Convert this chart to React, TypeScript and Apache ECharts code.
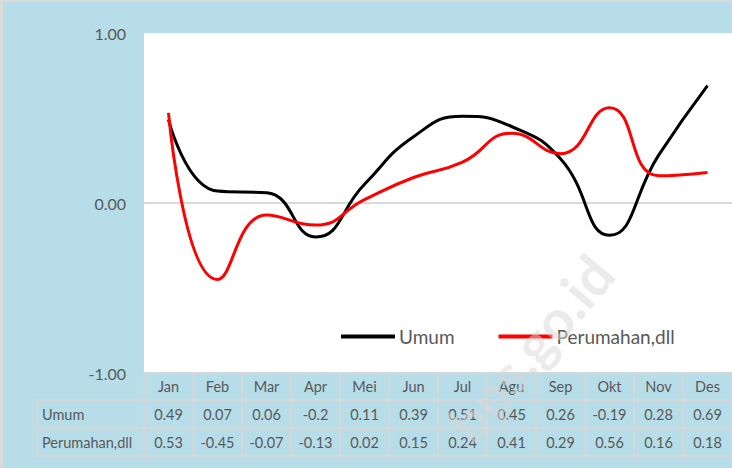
import React, { useEffect, useRef } from "react";
import * as echarts from "echarts";

const months = ["Jan", "Feb", "Mar", "Apr", "Mei", "Jun", "Jul", "Agu", "Sep", "Okt", "Nov", "Des"];
const umum = [0.49, 0.07, 0.06, -0.2, 0.11, 0.39, 0.51, 0.45, 0.26, -0.19, 0.28, 0.69];
const perumahan = [0.53, -0.45, -0.07, -0.13, 0.02, 0.15, 0.24, 0.41, 0.29, 0.56, 0.16, 0.18];
const seriesNames = ["Umum", "Perumahan,dll"];

const FONT = "Lato";
const TEXT = "#595959";
const LINE = "#d6d6d6";
const BG = "#b7dde8";

const GL = 144;
const GT = 33;
const GW = 592;
const GH = 340;
const ROW = [27, 28, 28];

export default function App() {
  const ref = useRef<HTMLDivElement>(null);
  useEffect(() => {
    if (!ref.current) return;
    const chart = echarts.init(ref.current, null, { renderer: "svg" });
    const bottom = GT + GH;
    const r1 = bottom + ROW[0];
    const r2 = r1 + ROW[1];
    const r3 = r2 + ROW[2];
    const tableAxis = (offset: number, len: number, margin: number, fmt: (v: string, i: number) => string) => ({
      type: "category",
      data: months,
      position: "bottom",
      offset,
      boundaryGap: true,
      axisLine: { show: true, onZero: false, lineStyle: { color: LINE, width: 2 } },
      axisTick: { show: true, length: len, interval: 0, lineStyle: { color: LINE, width: 2 } },
      axisLabel: {
        interval: 0,
        margin,
        verticalAlign: "middle",
        color: TEXT,
        fontFamily: FONT,
        fontSize: 14.5,
        formatter: fmt,
      },
      splitLine: { show: false },
    });
    chart.setOption({
      animation: false,
      backgroundColor: BG,
      textStyle: { fontFamily: FONT },
      grid: {
        left: GL,
        top: GT,
        width: GW,
        height: GH,
        show: true,
        backgroundColor: "#ffffff",
        borderWidth: 0,
      },
      legend: {
        left: 336,
        top: 322,
        icon: "rect",
        itemWidth: 54,
        itemHeight: 4,
        itemGap: 44,
        textStyle: { color: TEXT, fontFamily: FONT, fontSize: 19, padding: [0, 0, 0, -1] },
        data: seriesNames,
      },
      xAxis: [
        tableAxis(0, ROW[0], ROW[0] / 2, (v) => v),
        tableAxis(ROW[0], ROW[1], ROW[1] / 2, (_v, i) => String(umum[i])),
        tableAxis(ROW[0] + ROW[1], ROW[2], ROW[2] / 2, (_v, i) => String(perumahan[i])),
      ],
      yAxis: {
        type: "value",
        min: -1,
        max: 1,
        interval: 1,
        axisLine: { show: false },
        axisTick: { show: false },
        axisLabel: {
          margin: 18,
          color: TEXT,
          fontFamily: FONT,
          fontSize: 16,
          formatter: (v: number) => v.toFixed(2),
        },
        splitLine: { show: true, lineStyle: { color: ["transparent", "#d9d9d9", "transparent"], width: 2 } },
      },
      series: [
        {
          name: seriesNames[0],
          type: "line",
          xAxisIndex: 0,
          data: umum,
          smooth: 0.5,
          symbol: "none",
          lineStyle: { color: "#000000", width: 3 },
          itemStyle: { color: "#000000" },
          z: 3,
        },
        {
          name: seriesNames[1],
          type: "line",
          xAxisIndex: 0,
          data: perumahan,
          smooth: 0.5,
          symbol: "none",
          lineStyle: { color: "#ff0000", width: 3 },
          itemStyle: { color: "#ff0000" },
          z: 4,
        },
      ],
      graphic: [
        { type: "rect", shape: { x: 0, y: 0, width: 3, height: 468 }, style: { fill: "#dadada" }, silent: true },
        { type: "rect", shape: { x: 0, y: 0, width: 732, height: 2 }, style: { fill: "#dadada" }, silent: true },
        { type: "line", shape: { x1: 37, y1: r1, x2: GL, y2: r1 }, style: { stroke: LINE, lineWidth: 2 }, silent: true },
        { type: "line", shape: { x1: 37, y1: r2, x2: GL, y2: r2 }, style: { stroke: LINE, lineWidth: 2 }, silent: true },
        { type: "line", shape: { x1: 37, y1: r3, x2: 736, y2: r3 }, style: { stroke: LINE, lineWidth: 2 }, silent: true },
        { type: "line", shape: { x1: 37, y1: r1 - 1, x2: 37, y2: r3 + 1 }, style: { stroke: LINE, lineWidth: 2 }, silent: true },
        {
          type: "text",
          x: 42,
          y: r1 + ROW[1] / 2,
          style: { text: seriesNames[0], fill: TEXT, font: `14.5px ${FONT}`, verticalAlign: "middle" },
          silent: true,
        },
        {
          type: "text",
          x: 42,
          y: r2 + ROW[2] / 2,
          style: { text: seriesNames[1], fill: TEXT, font: `14.5px ${FONT}`, verticalAlign: "middle" },
          silent: true,
        },
        {
          type: "text",
          x: 530,
          y: 348,
          rotation: (50 * Math.PI) / 180,
          z: 100,
          style: {
            text: "bps.go.id",
            fill: "rgba(215,215,215,0.5)",
            font: `bold 56px ${FONT}`,
            align: "center",
            verticalAlign: "middle",
          },
          silent: true,
        },
      ],
    });
    return () => chart.dispose();
  }, []);
  return (
    <div
      ref={ref}
      style={{ position: "fixed", left: 0, top: 0, width: 732, height: 468 }}
    />
  );
}
